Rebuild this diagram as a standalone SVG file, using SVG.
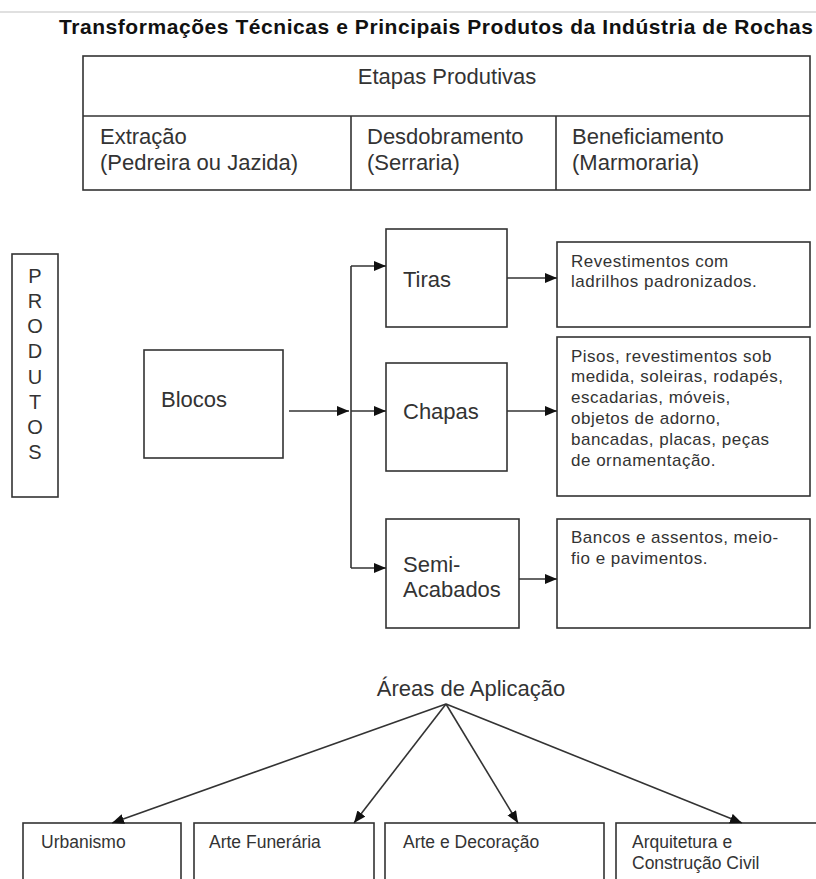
<svg xmlns="http://www.w3.org/2000/svg" width="816" height="879" viewBox="0 0 816 879">
<style>
.box{fill:#fff;stroke:#333;stroke-width:1.6}
.ln{fill:none;stroke:#333;stroke-width:1.6}
.t{font-family:"Liberation Sans",Arial,sans-serif;fill:#333}
.t22{font-size:22px}
.t18{font-size:17px;letter-spacing:0.5px}
.t17{font-size:17.5px}
.title{font-family:"Liberation Sans",Arial,sans-serif;font-size:21px;font-weight:bold;fill:#111}
</style>
<defs>
<marker id="arr" markerUnits="userSpaceOnUse" markerWidth="14" markerHeight="12" refX="12" refY="5" orient="auto">
<path d="M0,0 L12,5 L0,10 z" fill="#111"/>
</marker>
</defs>
<rect width="816" height="879" fill="#fff"/>
<line x1="0" y1="12" x2="816" y2="12" stroke="#d6d6d6" stroke-width="1.5"/>
<text class="title" x="59" y="34" textLength="754" lengthAdjust="spacing">Transformações Técnicas e Principais Produtos da Indústria de Rochas</text>

<g id="etapas">
<rect class="box" x="83" y="56" width="727" height="134"/>
<line class="ln" x1="83" y1="116" x2="810" y2="116"/>
<line class="ln" x1="351" y1="116" x2="351" y2="190"/>
<line class="ln" x1="556" y1="116" x2="556" y2="190"/>
<text class="t t22" x="447" y="84" text-anchor="middle">Etapas Produtivas</text>
<text class="t t22" x="100" y="144">Extração</text>
<text class="t t22" x="100" y="170">(Pedreira ou Jazida)</text>
<text class="t t22" x="367" y="144">Desdobramento</text>
<text class="t t22" x="367" y="170">(Serraria)</text>
<text class="t t22" x="572" y="144">Beneficiamento</text>
<text class="t t22" x="572" y="170">(Marmoraria)</text>
</g>

<g id="produtos">
<rect class="box" x="12" y="254" width="46" height="243"/>
<g class="t" font-size="20" text-anchor="middle">
<text x="35" y="283">P</text>
<text x="35" y="308">R</text>
<text x="35" y="333">O</text>
<text x="35" y="358">D</text>
<text x="35" y="384">U</text>
<text x="35" y="409">T</text>
<text x="35" y="434">O</text>
<text x="35" y="459">S</text>
</g>
</g>

<g id="blocos">
<rect class="box" x="144" y="350" width="139" height="108"/>
<text class="t t22" x="161" y="407">Blocos</text>
</g>

<g id="tiras">
<rect class="box" x="386" y="229" width="121" height="98"/>
<text class="t t22" x="403" y="287">Tiras</text>
</g>

<g id="chapas">
<rect class="box" x="386" y="363" width="121" height="108"/>
<text class="t t22" x="403" y="419">Chapas</text>
</g>

<g id="semi">
<rect class="box" x="386" y="519" width="133" height="109"/>
<text class="t t22" x="403" y="572">Semi-</text>
<text class="t t22" x="403" y="597">Acabados</text>
</g>

<g id="uso-tiras">
<rect class="box" x="557" y="242" width="253" height="85"/>
<text class="t t18" x="571" y="267">Revestimentos com</text>
<text class="t t18" x="571" y="287">ladrilhos padronizados.</text>
</g>

<g id="uso-chapas">
<rect class="box" x="557" y="337" width="253" height="159"/>
<text class="t t18" x="571" y="362">Pisos, revestimentos sob</text>
<text class="t t18" x="571" y="382">medida, soleiras, rodapés,</text>
<text class="t t18" x="571" y="403">escadarias, móveis,</text>
<text class="t t18" x="571" y="424">objetos de adorno,</text>
<text class="t t18" x="571" y="445">bancadas, placas, peças</text>
<text class="t t18" x="571" y="466">de ornamentação.</text>
</g>

<g id="uso-semi">
<rect class="box" x="557" y="519" width="253" height="109"/>
<text class="t t18" x="571" y="543">Bancos e assentos, meio-</text>
<text class="t t18" x="571" y="564">fio e pavimentos.</text>
</g>

<g id="areas">
<text class="t t22" x="471" y="696" text-anchor="middle">Áreas de Aplicação</text>
</g>

<g id="urbanismo">
<rect class="box" x="23" y="823" width="158" height="70"/>
<text class="t t17" x="41" y="848">Urbanismo</text>
</g>
<g id="funeraria">
<rect class="box" x="194" y="823" width="180" height="70"/>
<text class="t t17" x="209" y="848">Arte Funerária</text>
</g>
<g id="decoracao">
<rect class="box" x="385" y="823" width="219" height="70"/>
<text class="t t17" x="403" y="848">Arte e Decoração</text>
</g>
<g id="arquitetura">
<rect class="box" x="616" y="823" width="220" height="70"/>
<text class="t t17" x="632" y="848">Arquitetura e</text>
<text class="t t17" x="632" y="869">Construção Civil</text>
</g>

<g id="connectors">
<line class="ln" x1="289" y1="411" x2="349" y2="411" marker-end="url(#arr)"/>
<line class="ln" x1="351" y1="266" x2="351" y2="568"/>
<line class="ln" x1="351" y1="266" x2="386" y2="266" marker-end="url(#arr)"/>
<line class="ln" x1="351" y1="411" x2="386" y2="411" marker-end="url(#arr)"/>
<line class="ln" x1="351" y1="568" x2="386" y2="568" marker-end="url(#arr)"/>
<line class="ln" x1="507" y1="278" x2="557" y2="278" marker-end="url(#arr)"/>
<line class="ln" x1="507" y1="411" x2="557" y2="411" marker-end="url(#arr)"/>
<line class="ln" x1="519" y1="579" x2="557" y2="579" marker-end="url(#arr)"/>
<line class="ln" x1="446" y1="704" x2="112" y2="823" marker-end="url(#arr)"/>
<line class="ln" x1="446" y1="704" x2="354" y2="823" marker-end="url(#arr)"/>
<line class="ln" x1="446" y1="704" x2="518" y2="823" marker-end="url(#arr)"/>
<line class="ln" x1="446" y1="704" x2="742" y2="823" marker-end="url(#arr)"/>
</g>
</svg>
